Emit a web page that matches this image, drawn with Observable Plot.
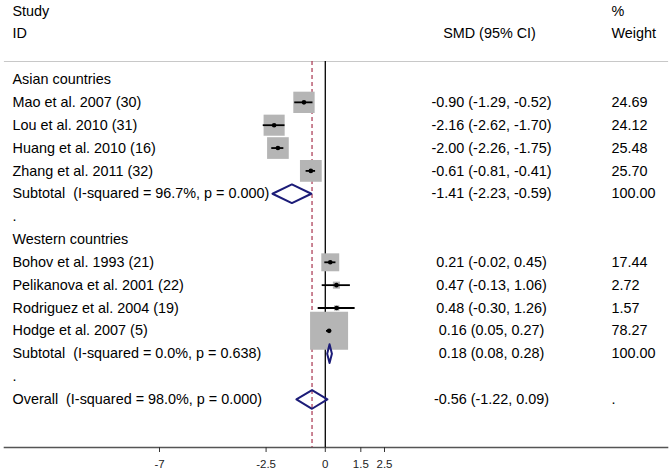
<!DOCTYPE html>
<html>
<head>
<meta charset="utf-8">
<script src="https://cdn.jsdelivr.net/npm/d3@7"></script>
<script src="https://cdn.jsdelivr.net/npm/@observablehq/plot@0.6"></script>
<style>
  html, body { margin: 0; padding: 0; background: #fff; }
  svg text { white-space: pre; }
</style>
</head>
<body>
<div id="chart"></div>
<script>
// ---- data ----
const groups = ["Asian countries", "Western countries"];
const studies = [
  "Mao et al. 2007 (30)", "Lou et al. 2010 (31)", "Huang et al. 2010 (16)", "Zhang et al. 2011 (32)",
  "Bohov et al. 1993 (21)", "Pelikanova et al. 2001 (22)", "Rodriguez et al. 2004 (19)", "Hodge et al. 2007 (5)"
];
const studyGroup = [0, 0, 0, 0, 1, 1, 1, 1];
const smd    = [-0.90, -2.16, -2.00, -0.61, 0.21, 0.47, 0.48, 0.16];
const ciLow  = [-1.29, -2.62, -2.26, -0.81, -0.02, -0.13, -0.30, 0.05];
const ciHigh = [-0.52, -1.70, -1.75, -0.41, 0.45, 1.06, 1.26, 0.27];
const weights = [24.69, 24.12, 25.48, 25.70, 17.44, 2.72, 1.57, 78.27];

const subtotalLabels = ["Subtotal  (I-squared = 96.7%, p = 0.000)", "Subtotal  (I-squared = 0.0%, p = 0.638)"];
const subtotalSmd  = [-1.41, 0.18];
const subtotalLow  = [-2.23, 0.08];
const subtotalHigh = [-0.59, 0.28];
const subtotalWeight = [100.00, 100.00];

const overallLabel = "Overall  (I-squared = 98.0%, p = 0.000)";
const overallSmd = -0.56, overallLow = -1.22, overallHigh = 0.09;

const xTicks = [-7, -2.5, 0, 1.5, 2.5];
const headerStudy = ["Study", "ID"];
const headerSmd = "SMD (95% CI)";
const headerWeight = ["%", "Weight"];

// ---- build table rows ----
const f2 = v => v.toFixed(2);
const ciText = (e, l, h) => `${f2(e)} (${f2(l)}, ${f2(h)})`;
const rows = [];
const studyRows = [];
const summaries = [];
let r = 0;
groups.forEach((g, gi) => {
  rows.push({row: r++, label: g, smdText: "", wText: ""});
  studies.forEach((s, i) => {
    if (studyGroup[i] !== gi) return;
    studyRows.push({row: r, est: smd[i], lo: ciLow[i], hi: ciHigh[i], w: weights[i]});
    rows.push({row: r++, label: s, smdText: ciText(smd[i], ciLow[i], ciHigh[i]), wText: f2(weights[i])});
  });
  summaries.push({row: r, est: subtotalSmd[gi], lo: subtotalLow[gi], hi: subtotalHigh[gi]});
  rows.push({row: r++, label: subtotalLabels[gi], smdText: ciText(subtotalSmd[gi], subtotalLow[gi], subtotalHigh[gi]), wText: f2(subtotalWeight[gi])});
  rows.push({row: r++, label: ".", smdText: "", wText: ""});
});
summaries.push({row: r, est: overallSmd, lo: overallLow, hi: overallHigh});
rows.push({row: r++, label: overallLabel, smdText: ciText(overallSmd, overallLow, overallHigh), wText: "."});
const lastRow = r - 1;

// diamond outline points
const dh = 0.41;
const diamondPts = [];
summaries.forEach((s, k) => {
  diamondPts.push({k, x: s.lo, y: s.row});
  diamondPts.push({k, x: s.est, y: s.row - dh});
  diamondPts.push({k, x: s.hi, y: s.row});
  diamondPts.push({k, x: s.est, y: s.row + dh});
});

const headRows = [
  {row: -3, a: headerStudy[0], c: headerWeight[0], b: ""},
  {row: -2, a: headerStudy[1], c: headerWeight[1], b: headerSmd}
];

const font = "'Liberation Sans', Arial, Helvetica, sans-serif";
const fs = 14.4;

const chart = Plot.plot({
  width: 672,
  height: 473,
  marginLeft: 4,
  marginRight: 5,
  marginTop: 61,
  marginBottom: 26,
  style: {fontFamily: font, fontSize: fs + "px", color: "#000", background: "#fff"},
  x: {domain: [-7, 2.5], range: [159, 384]},
  y: {domain: [0, lastRow], range: [79, 79 + 22.85 * lastRow], axis: null},
  r: {type: "sqrt", domain: [0, d3.max(weights)], range: [0, 38 / Math.sqrt(Math.PI)]},
  marks: [
    Plot.frame({anchor: "top", stroke: "#c8c8c8", strokeWidth: 1.2}),
    Plot.frame({anchor: "bottom", stroke: "#555", strokeWidth: 1.6}),
    Plot.ruleX([0], {stroke: "#000", strokeWidth: 1.3}),
    Plot.ruleX([overallSmd], {stroke: "#a8344f", strokeWidth: 1.2, strokeDasharray: "4,3"}),
    Plot.dot(studyRows, {x: "est", y: "row", r: "w", symbol: "square", fill: "#b5b5b5", stroke: "none"}),
    Plot.ruleY(studyRows, {y: "row", x1: "lo", x2: "hi", stroke: "#000", strokeWidth: 1.8}),
    Plot.dot(studyRows, {x: "est", y: "row", r: 2.3, fill: "#000", stroke: "none"}),
    Plot.line(diamondPts, {x: "x", y: "y", z: "k", curve: "linear-closed", stroke: "#1c1c78", strokeWidth: 2, fill: "none"}),
    Plot.text(rows, {y: "row", text: "label", frameAnchor: "left", dx: 8, textAnchor: "start", fontSize: fs, fill: "#000"}),
    Plot.text(rows, {y: "row", text: "smdText", frameAnchor: "left", dx: 487, textAnchor: "middle", fontSize: fs, fill: "#000"}),
    Plot.text(rows, {y: "row", text: "wText", frameAnchor: "left", dx: 607, textAnchor: "start", fontSize: fs, fill: "#000"}),
    Plot.text(headRows, {y: "row", text: "a", frameAnchor: "left", dx: 8, textAnchor: "start", fontSize: fs, fill: "#000"}),
    Plot.text(headRows, {y: "row", text: "b", frameAnchor: "left", dx: 485, textAnchor: "middle", fontSize: fs, fill: "#000"}),
    Plot.text(headRows, {y: "row", text: "c", frameAnchor: "left", dx: 607, textAnchor: "start", fontSize: fs, fill: "#000"}),
    Plot.axisX({ticks: xTicks, tickFormat: d => String(d), tickSize: 5, tickPadding: 7, fontSize: 11.5, stroke: "#333", color: "#222", label: null})
  ]
});
document.getElementById("chart").append(chart);
</script>
</body>
</html>
